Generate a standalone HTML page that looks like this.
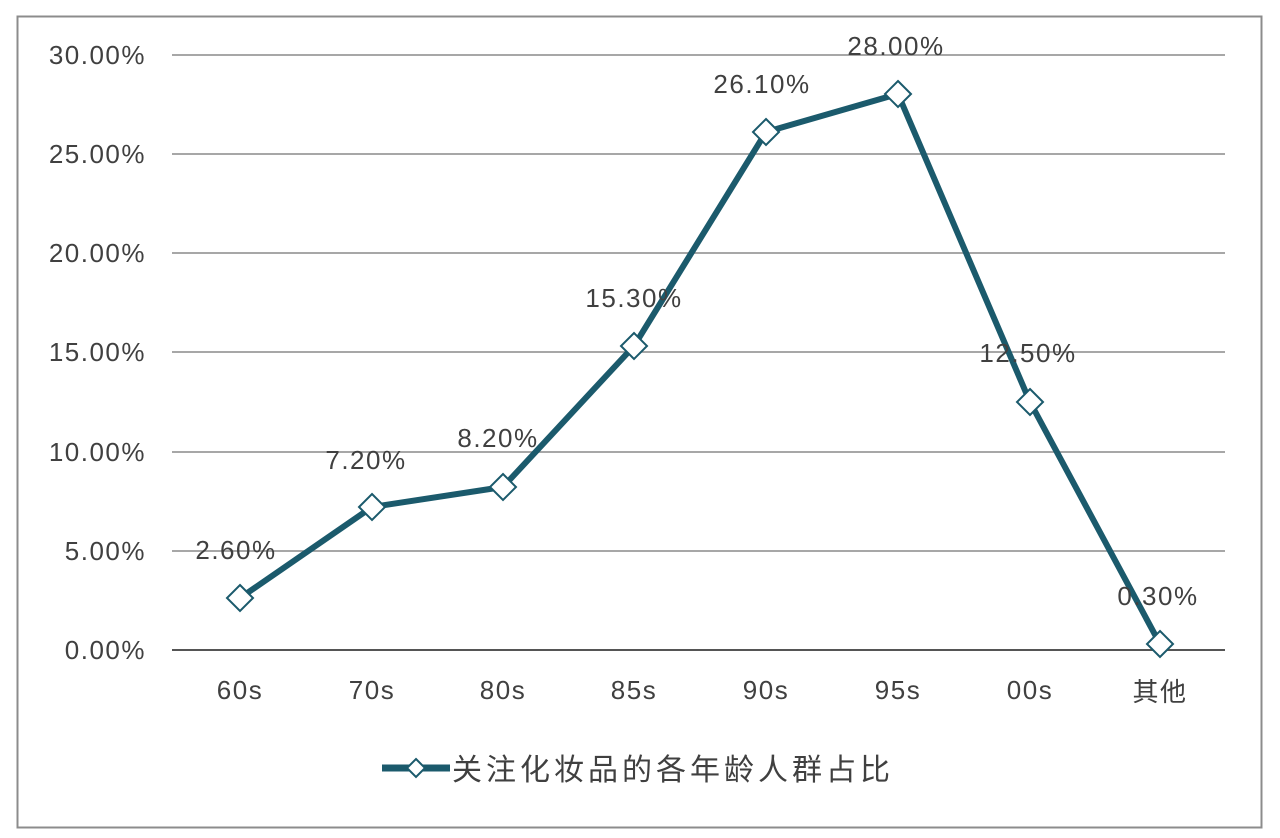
<!DOCTYPE html>
<html><head><meta charset="utf-8"><style>body{margin:0;background:#fff}svg{display:block}</style></head><body>
<svg width="1280" height="838" xmlns="http://www.w3.org/2000/svg" font-family="Liberation Sans, Noto Sans CJK SC, sans-serif" fill="#404040">
<rect x="17.5" y="16.5" width="1244" height="811" fill="#fff" stroke="#8c8c8c" stroke-width="2"/>
<g stroke="#8a8a8a" stroke-width="1.5">
<line x1="172" y1="55" x2="1225" y2="55"/><line x1="172" y1="154" x2="1225" y2="154"/><line x1="172" y1="253" x2="1225" y2="253"/><line x1="172" y1="352" x2="1225" y2="352"/><line x1="172" y1="452" x2="1225" y2="452"/><line x1="172" y1="551" x2="1225" y2="551"/>
</g>
<line x1="172" y1="650" x2="1225" y2="650" stroke="#555" stroke-width="2"/>
<g font-size="26" letter-spacing="1.5" text-anchor="end">
<text x="146" y="64">30.00%</text><text x="146" y="163">25.00%</text><text x="146" y="262">20.00%</text><text x="146" y="361">15.00%</text><text x="146" y="461">10.00%</text><text x="146" y="560">5.00%</text><text x="146" y="659">0.00%</text>
</g>
<g font-size="26" letter-spacing="1.5" text-anchor="middle">
<text x="240" y="699">60s</text><text x="372" y="699">70s</text><text x="503" y="699">80s</text><text x="634" y="699">85s</text><text x="766" y="699">90s</text><text x="898" y="699">95s</text><text x="1030" y="699">00s</text><text x="1160" y="701">其他</text>
</g>
<polyline points="240,598 372,507 503,487 634,346 766,132 898,94 1030,402 1160,644" fill="none" stroke="#1b5a6c" stroke-width="6" stroke-linejoin="round"/>
<g fill="#fff" stroke="#1b5a6c" stroke-width="2">
<path d="M240,585l13,13l-13,13l-13,-13z"/><path d="M372,494l13,13l-13,13l-13,-13z"/><path d="M503,474l13,13l-13,13l-13,-13z"/><path d="M634,333l13,13l-13,13l-13,-13z"/><path d="M766,119l13,13l-13,13l-13,-13z"/><path d="M898,81l13,13l-13,13l-13,-13z"/><path d="M1030,389l13,13l-13,13l-13,-13z"/><path d="M1160,631l13,13l-13,13l-13,-13z"/>
</g>
<g font-size="26" letter-spacing="1.5" text-anchor="middle">
<text x="236" y="559">2.60%</text><text x="366" y="469">7.20%</text><text x="498" y="447">8.20%</text><text x="634" y="307">15.30%</text><text x="762" y="93">26.10%</text><text x="896" y="55">28.00%</text><text x="1028" y="362">12.50%</text><text x="1158" y="605">0.30%</text>
</g>
<line x1="382" y1="768" x2="450" y2="768" stroke="#1b5a6c" stroke-width="7"/>
<path d="M416,759l9,9l-9,9l-9,-9z" fill="#fff" stroke="#1b5a6c" stroke-width="2"/>
<text x="452" y="780" font-size="30" letter-spacing="4">关注化妆品的各年龄人群占比</text>
</svg>
</body></html>
